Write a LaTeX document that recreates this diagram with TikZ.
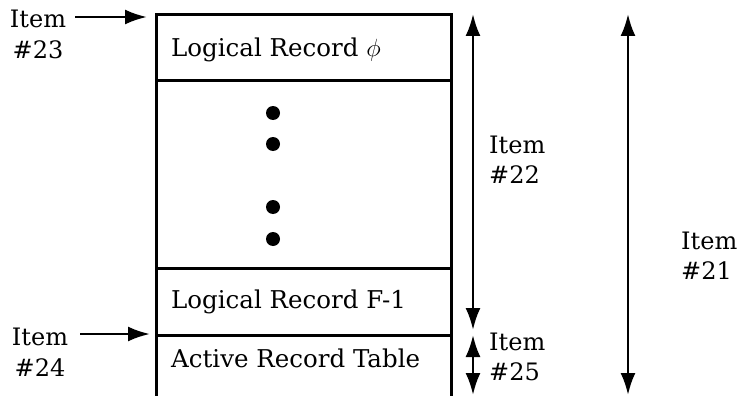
\documentclass[tikz,border=0pt]{standalone}
\usepackage{fontspec}
\setmainfont{DejaVu Serif}
\usetikzlibrary{arrows.meta}
\begin{document}
\begin{tikzpicture}[x=1pt,y=-1pt,
  rowbox/.style={draw,line width=3pt,minimum width=295pt,inner sep=0pt},
  rowtext/.style={anchor=west,inner sep=0pt,font=\fontsize{24.5}{28}\selectfont},
  lbl/.style={align=center,inner sep=0pt,font=\fontsize{24}{31}\selectfont},
  lblleft/.style={align=left,inner sep=0pt,anchor=west,font=\fontsize{24}{30}\selectfont},
  dim/.style={line width=2.6pt,{Latex[length=22pt,width=15pt]}-{Latex[length=22pt,width=15pt]}},
  pointer/.style={line width=2.6pt,-{Latex[length=22pt,width=15pt]}},
  dot/.style={circle,fill=black,inner sep=0pt,minimum size=14pt}]
\useasboundingbox (0,0) rectangle (739,396);
% box rows
\node[rowbox,minimum height=66pt] (r0) at (303.5,48) {};
\node[rowbox,minimum height=187pt] (r1) at (303.5,174.5) {};
\node[rowbox,minimum height=67pt] (r2) at (303.5,301.5) {};
\coordinate (r3nw) at (156,335);
\coordinate (r3ne) at (451,335);
\coordinate (r3sw) at (156,397);
\coordinate (r3se) at (451,397);
\draw[line width=3pt] (r3nw) -- (r3sw) (r3ne) -- (r3se);
% texts
\node[rowtext] (t0) at (171,50) {Logical Record $\phi$};
\node[rowtext] (t2) at (171,302) {Logical Record F-1};
\node[rowtext] (t3) at (171,358) {Active Record Table};
% dots
\node[dot] (d1) at (273,113) {};
\node[dot] (d2) at (273,144) {};
\node[dot] (d3) at (273,207) {};
\node[dot] (d4) at (273,239) {};
% left labels and pointers
\node[lbl] (i23) at (38,34) {Item\\\#23};
\node[lbl] (i24) at (40,352) {Item\\\#24};
\coordinate (p23s) at (75,17);
\coordinate (p23e) at (147,17);
\coordinate (p24s) at (80,334);
\coordinate (p24e) at (150,334);
\draw[pointer] (p23s) -- (p23e);
\draw[pointer] (p24s) -- (p24e);
% dimension arrows
\coordinate (a22t) at (473,14);
\coordinate (a22b) at (473,330);
\coordinate (a25t) at (473,335);
\coordinate (a25b) at (473,395);
\coordinate (a21t) at (628,14);
\coordinate (a21b) at (628,395);
\draw[dim] (a22t) -- (a22b);
\draw[dim] (a25t) -- (a25b);
\draw[dim] (a21t) -- (a21b);
\node[lblleft] (i22) at (489,160) {Item\\\#22};
\node[lblleft] (i25) at (489,357) {Item\\\#25};
\node[lblleft] (i21) at (681,256) {Item\\\#21};
\end{tikzpicture}
\end{document}
